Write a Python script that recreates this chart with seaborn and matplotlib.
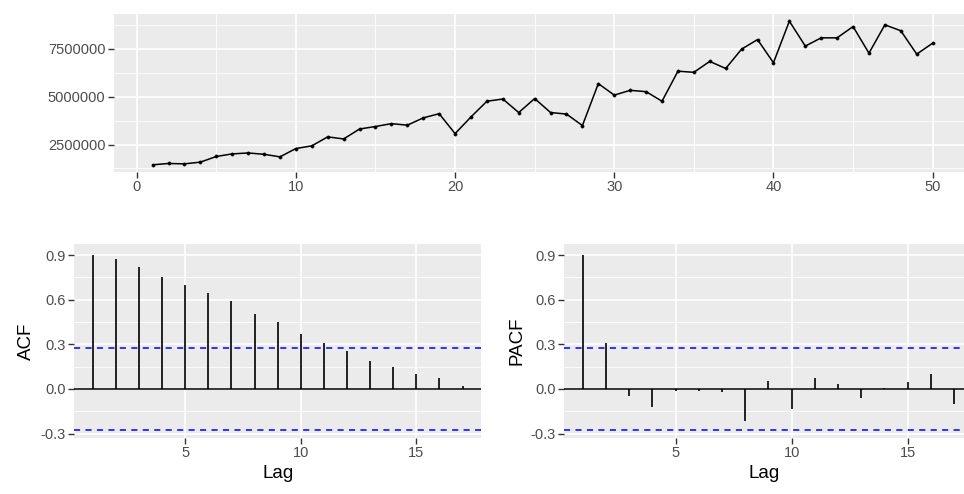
import numpy as np
import pandas as pd
import matplotlib
matplotlib.use("Agg")
import matplotlib.pyplot as plt
import seaborn as sns

# ---------------- data ----------------
time_idx = list(range(1, 51))
series_vals = [1.44e6, 1.51e6, 1.49e6, 1.58e6, 1.875e6, 2.01e6, 2.06e6, 1.99e6, 1.855e6, 2.29e6,
               2.43e6, 2.90e6, 2.79e6, 3.31e6, 3.44e6, 3.59e6, 3.51e6, 3.89e6, 4.11e6, 3.07e6,
               3.94e6, 4.76e6, 4.875e6, 4.17e6, 4.90e6, 4.17e6, 4.09e6, 3.49e6, 5.68e6, 5.08e6,
               5.33e6, 5.26e6, 4.76e6, 6.33e6, 6.27e6, 6.84e6, 6.47e6, 7.48e6, 7.98e6, 6.77e6,
               8.94e6, 7.64e6, 8.07e6, 8.07e6, 8.66e6, 7.27e6, 8.75e6, 8.44e6, 7.22e6, 7.79e6]
lags = list(range(1, 18))
acf_vals = [0.902, 0.873, 0.818, 0.756, 0.700, 0.644, 0.589, 0.507, 0.451, 0.367,
            0.311, 0.256, 0.191, 0.147, 0.100, 0.071, 0.018]
pacf_vals = [0.900, 0.311, -0.049, -0.122, -0.013, -0.013, -0.022, -0.216, 0.051, -0.133,
             0.071, 0.036, -0.060, 0.003, 0.044, 0.100, -0.104]
ci_level = 0.277
top_yticks = [2500000, 5000000, 7500000]
top_xticks = [0, 10, 20, 30, 40, 50]
cf_yticks = [-0.3, 0.0, 0.3, 0.6, 0.9]
cf_xticks = [5, 10, 15]

# ---------------- style ----------------
sns.set_theme(style="darkgrid", rc={
    "axes.facecolor": "#EBEBEB",
    "grid.color": "white",
    "axes.edgecolor": "#EBEBEB",
})
plt.rcParams["font.family"] = ["Liberation Sans", "DejaVu Sans"]

W, H = 964, 494
fig = plt.figure(figsize=(W / 100, H / 100), dpi=100)


def px_axes(left, top, right, bottom):
    return fig.add_axes([left / W, 1 - bottom / H, (right - left) / W, (bottom - top) / H])


def style_axes(ax):
    for s in ax.spines.values():
        s.set_visible(False)
    ax.tick_params(axis="both", which="major", length=4, width=1, color="#333333",
                   labelcolor="#4D4D4D", labelsize=10.5, pad=2, bottom=True, left=True)
    ax.tick_params(axis="both", which="minor", length=0)
    ax.grid(True, which="major", color="white", lw=1.2)
    ax.grid(True, which="minor", color="white", lw=0.6)
    ax.set_axisbelow(True)


# ---------------- top: time series ----------------
ax0 = px_axes(113.6, 14, 964, 172)
df = pd.DataFrame({"t": time_idx, "v": series_vals})
sns.lineplot(data=df, x="t", y="v", ax=ax0, color="black", lw=1.1)
sns.scatterplot(data=df, x="t", y="v", ax=ax0, color="black", s=6, edgecolor=None, zorder=3)
ax0.set_xlim(-1.45, 51.97)
ax0.set_ylim(1.065e6, 9.315e6)
ax0.set_xticks(top_xticks)
ax0.set_xticks([5, 15, 25, 35, 45], minor=True)
ax0.set_yticks(top_yticks)
ax0.set_yticklabels([str(v) for v in top_yticks])
ax0.set_yticks([1250000, 3750000, 6250000, 8750000], minor=True)
ax0.set_xlabel("")
ax0.set_ylabel("")
style_axes(ax0)


# ---------------- bottom: ACF / PACF ----------------
def cf_panel(ax, vals, ylabel, xmax):
    style_axes(ax)
    ax.axhline(0, color="black", lw=1.1, zorder=2)
    ax.vlines(lags, 0, vals, color="black", lw=1.2, zorder=3)
    ax.axhline(ci_level, color="blue", lw=1.1, ls=(0, (4, 3.5)), zorder=2)
    ax.axhline(-ci_level, color="blue", lw=1.1, ls=(0, (4, 3.5)), zorder=2)
    ax.set_xlim(0.2, xmax)
    ax.set_ylim(-0.33, 0.975)
    ax.set_xticks(cf_xticks)
    ax.set_yticks(cf_yticks)
    ax.set_yticklabels([f"{v:.1f}" for v in cf_yticks])
    ax.set_yticks([-0.15, 0.15, 0.45, 0.75], minor=True)
    ax.grid(False, which="minor", axis="x")
    ax.set_xlabel("Lag", fontsize=13.5, color="black", labelpad=3)
    ax.set_ylabel(ylabel, fontsize=13.5, color="black", labelpad=4)


ax1 = px_axes(74.4, 244, 481, 438)
cf_panel(ax1, acf_vals, "ACF", 17.8)

ax2 = px_axes(564.3, 244, 964, 438)
cf_panel(ax2, pacf_vals, "PACF", 17.43)

fig.savefig("out.png", dpi=100, facecolor="white")
